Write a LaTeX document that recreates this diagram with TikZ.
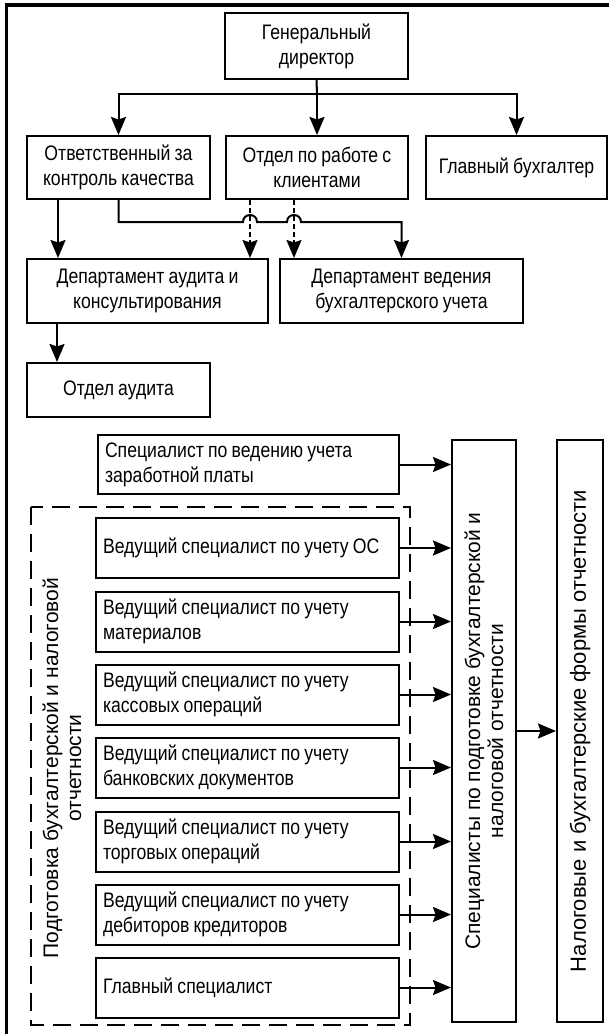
\documentclass[tikz,border=0pt]{standalone}
\usepackage{fontspec}
\setmainfont[FakeStretch=0.84,WordSpace=0.85]{Liberation Sans}
\newfontfamily\rotfont{Liberation Sans}
\usetikzlibrary{arrows.meta}
\begin{document}
\begin{tikzpicture}[x=1pt,y=-1pt,
  txt/.style={font=\fontsize{21}{25}\selectfont},
  rtxt/.style={font=\rotfont\fontsize{21}{23}\selectfont},
  box/.style={draw, line width=2pt, inner sep=0pt, align=center, txt},
  lbox/.style={box, align=flush left, inner xsep=7pt, text width=#1},
  arr/.style={line width=2pt, -{Stealth[length=18pt,width=15pt,inset=2.5pt]}},
  dasharr/.style={arr, dash pattern=on 5pt off 3pt},
  grp/.style={line width=2pt, dash pattern=on 18pt off 9pt},
  frame/.style={line width=3.3pt}]
\useasboundingbox (0,0) rectangle (609,1034);
\draw[frame] (6.5,1034) -- (6.5,5) -- (609,5);

% top part
\node[box, minimum width=183, minimum height=66] (dir) at (316.5,46) {Генеральный\\директор};
\node[box, minimum width=183, minimum height=63] (qc) at (118.5,167.5) {Ответственный за\\контроль качества};
\node[box, minimum width=182, minimum height=63] (cl) at (317,167.5) {Отдел по работе с\\клиентами};
\node[box, minimum width=181, minimum height=63] (gb) at (516.5,167.5) {Главный бухгалтер};
\node[box, minimum width=241, minimum height=64] (ad) at (147.5,291) {Департамент аудита и\\консультирования};
\node[box, minimum width=243, minimum height=64] (acc) at (401.5,291) {Департамент ведения\\бухгалтерского учета};
\node[box, minimum width=183, minimum height=54] (oa) at (118.5,390) {Отдел аудита};

\coordinate (hub) at (317,94);
\coordinate (xa) at (58,0);
\coordinate (xb) at (57,0);
\coordinate (xd1) at (250,0);
\coordinate (xd2) at (294,0);

\draw[line width=2pt] (dir.south) -- (hub);
\draw[arr] (hub) -- (cl.north);
\draw[arr] (hub) -| (qc.north);
\draw[arr] (hub) -| (gb.north);
\draw[arr] (qc.south -| xa) -- (ad.north -| xa);
\draw[arr] (qc.south) -- (118.5,222) -- (243,222)
   .. controls (243,212.7) and (257,212.7) .. (257,222) -- (287,222)
   .. controls (287,212.7) and (301,212.7) .. (301,222) -- (401.5,222) -- (acc.north);
\draw[dasharr] (cl.south -| xd1) -- (ad.north -| xd1);
\draw[dasharr] (cl.south -| xd2) -- (acc.north -| xd2);
\draw[arr] (ad.south -| xb) -- (oa.north -| xb);

% lower part
\node[box, rtxt, rotate=90, minimum width=582, minimum height=64] (spec) at (484,731)
  {Специалисты по подготовке бухгалтерской и\\налоговой отчетности};
\node[box, rotate=90, minimum width=582, minimum height=46,
  font=\rotfont\fontsize{22}{24}\selectfont] (nal) at (580,731)
  {Налоговые и бухгалтерские формы отчетности};

\node[lbox=287, minimum height=59] (pay) at (248.5,464.5) {Специалист по ведению учета\\заработной платы};
\draw[grp] (31,507) rectangle (410,1025);
\node[rtxt, rotate=90, align=center, inner sep=0pt] (grl) at (62,768)
  {Подготовка бухгалтерской и налоговой\\отчетности};

\node[lbox=289, minimum height=60] (l1) at (247.5,548) {Ведущий специалист по учету ОС};
\node[lbox=289, minimum height=60] (l2) at (247.5,621.5) {Ведущий специалист по учету\\материалов};
\node[lbox=289, minimum height=60] (l3) at (247.5,694.5) {Ведущий специалист по учету\\кассовых операций};
\node[lbox=289, minimum height=60] (l4) at (247.5,767.5) {Ведущий специалист по учету\\банковских документов};
\node[lbox=289, minimum height=60] (l5) at (247.5,841.5) {Ведущий специалист по учету\\торговых операций};
\node[lbox=289, minimum height=60] (l6) at (247.5,914.5) {Ведущий специалист по учету\\дебиторов кредиторов};
\node[lbox=289, minimum height=60] (l7) at (247.5,987.5) {Главный специалист};

\draw[arr] (pay.east) -- (pay.east -| spec.north);
\foreach \n in {l1,l2,l3,l4,l5,l6,l7}
  \draw[arr] (\n.east) -- (\n.east -| spec.north);
\draw[arr] (spec.south) -- (nal.north);
\end{tikzpicture}
\end{document}
